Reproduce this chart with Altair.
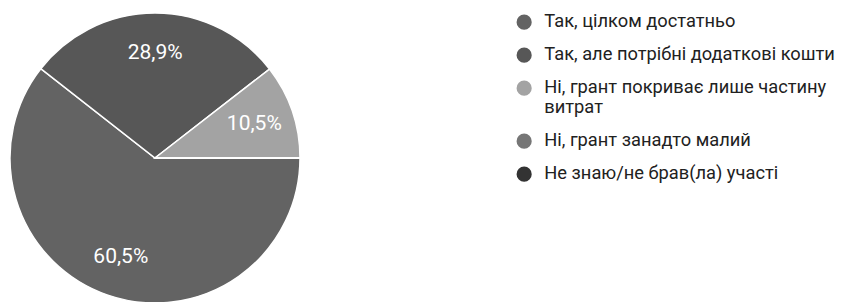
import altair as alt
import pandas as pd
import math

categories = [
    "Так, цілком достатньо",
    "Так, але потрібні додаткові кошти",
    "Ні, грант покриває лише частину витрат",
    "Ні, грант занадто малий",
    "Не знаю/не брав(ла) участі",
]
values = [60.5, 28.9, 10.5, 0.0, 0.0]
labels = ["60,5%", "28,9%", "10,5%", "", ""]
colors = ["#636363", "#575757", "#a3a3a3", "#767676", "#333333"]

df = pd.DataFrame({"cat": categories, "val": values, "lab": labels,
                   "idx": list(range(len(categories)))})

start = math.pi / 2
theta_scale = alt.Scale(range=[start, start + 2 * math.pi])

base = alt.Chart(df).encode(
    theta=alt.Theta("val:Q", stack=True, scale=theta_scale),
    order=alt.Order("idx:Q"),
    x=alt.value(147),
    y=alt.value(150),
)

arcs = base.mark_arc(outerRadius=145, stroke="white", strokeWidth=1.5).encode(
    color=alt.Color(
        "cat:N",
        sort=categories,
        scale=alt.Scale(domain=categories, range=colors),
        legend=alt.Legend(
            title=None,
            orient="none",
            legendX=507,
            legendY=5,
            symbolType="circle",
            symbolSize=230,
            symbolStrokeWidth=0,
            labelFontSize=18.3,
            labelFont="Roboto",
            labelColor="#212121",
            labelLimit=400,
            rowPadding=14,
            labelOffset=11,
            labelExpr="datum.label == 'Ні, грант покриває лише частину витрат' ? ['Ні, грант покриває лише частину', 'витрат'] : datum.label",
        ),
    )
)

text = base.mark_text(radius=105, fontSize=21, font="Roboto", color="white").encode(
    text="lab:N"
)

chart = (arcs + text).properties(
    width=830, height=294, autosize=alt.AutoSizeParams(type="none"), padding=0
).configure_view(stroke=None)

chart.save("out.html", embed_options={"renderer": "svg", "actions": False})
